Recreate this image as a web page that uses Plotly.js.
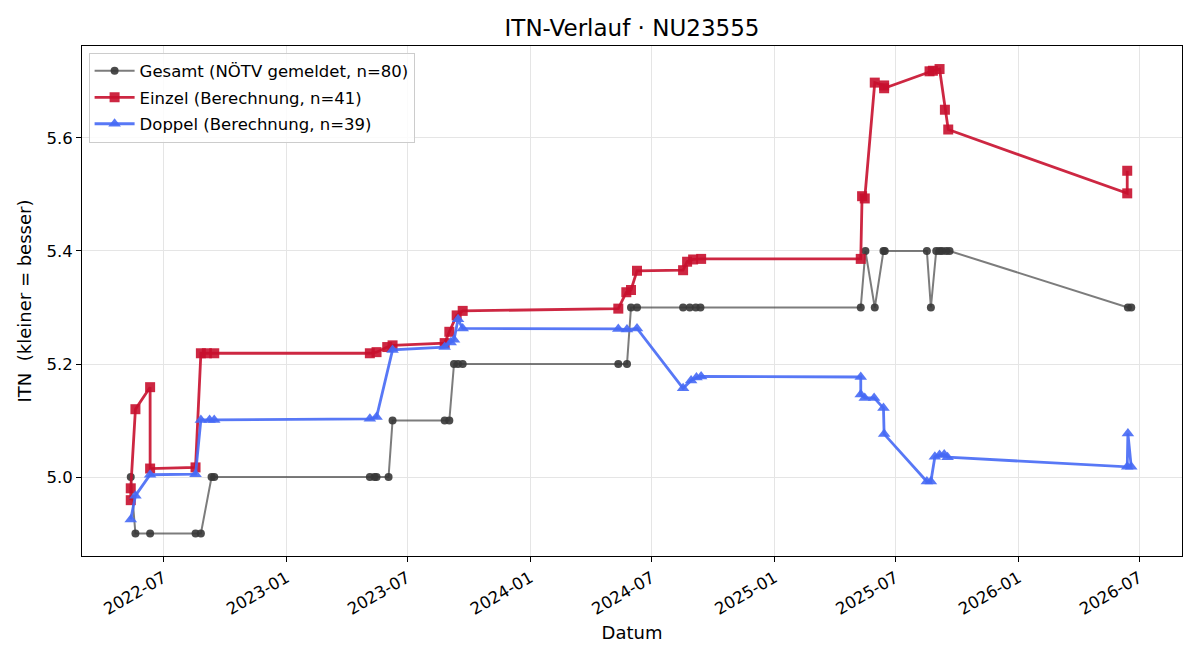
<!DOCTYPE html>
<html>
<head>
<meta charset="utf-8">
<script src="https://cdn.plot.ly/plotly-3.0.1.min.js"></script>
<style>
  html, body { margin: 0; padding: 0; background: #ffffff; }
  #chart { width: 1200px; height: 660px; }
</style>
</head>
<body>
<div id="chart"></div>
<script>
// ITN history for player NU23555: reported overall value and computed singles/doubles values

const gesamtDates = [
  '2022-05-13', '2022-05-20', '2022-06-11', '2022-08-18', '2022-08-26', '2022-09-11', '2022-09-15',
  '2023-05-06', '2023-05-13', '2023-05-16', '2023-06-03', '2023-06-09', '2023-08-26', '2023-09-02',
  '2023-09-09', '2023-09-15', '2023-09-22', '2024-05-12', '2024-05-25', '2024-05-31', '2024-06-09',
  '2024-08-17', '2024-08-27', '2024-09-05', '2024-09-12', '2025-05-10', '2025-05-17', '2025-05-31',
  '2025-06-13', '2025-06-15', '2025-08-17', '2025-08-23', '2025-08-31', '2025-09-05', '2025-09-09',
  '2025-09-15', '2025-09-20', '2026-06-14', '2026-06-19'
];
const gesamtValues = [
  5.0, 4.9, 4.9, 4.9, 4.9, 5.0, 5.0,
  5.0, 5.0, 5.0, 5.0, 5.1, 5.1, 5.1,
  5.2, 5.2, 5.2, 5.2, 5.2, 5.3, 5.3,
  5.3, 5.3, 5.3, 5.3, 5.3, 5.4, 5.3,
  5.4, 5.4, 5.4, 5.3, 5.4, 5.4, 5.4,
  5.4, 5.4, 5.3, 5.3
];

const einzelDates = [
  '2022-05-13', '2022-05-13', '2022-05-20', '2022-06-11', '2022-06-11', '2022-08-18', '2022-08-26',
  '2022-09-04', '2022-09-15', '2023-05-06', '2023-05-16', '2023-06-01', '2023-06-09', '2023-08-26',
  '2023-09-02', '2023-09-13', '2023-09-22', '2024-05-12', '2024-05-24', '2024-05-31', '2024-06-09',
  '2024-08-17', '2024-08-23', '2024-09-01', '2024-09-13', '2025-05-10', '2025-05-12', '2025-05-16',
  '2025-05-31', '2025-06-14', '2025-06-14', '2025-08-21', '2025-08-26', '2025-09-05', '2025-09-13',
  '2025-09-18', '2026-06-13', '2026-06-13'
];
const einzelValues = [
  4.959, 4.980, 5.120, 5.159, 5.015, 5.017, 5.219,
  5.219, 5.219, 5.219, 5.221, 5.230, 5.233, 5.237,
  5.257, 5.286, 5.294, 5.298, 5.327, 5.331, 5.365,
  5.366, 5.381, 5.385, 5.386, 5.386, 5.497, 5.493,
  5.698, 5.693, 5.688, 5.718, 5.719, 5.722, 5.650,
  5.615, 5.502, 5.542
];

const doppelDates = [
  '2022-05-13', '2022-05-20', '2022-06-11', '2022-08-18', '2022-08-26', '2022-09-08', '2022-09-15',
  '2023-05-06', '2023-05-16', '2023-06-09', '2023-08-26', '2023-09-04', '2023-09-09', '2023-09-15',
  '2023-09-22', '2024-05-12', '2024-05-25', '2024-06-09', '2024-08-17', '2024-08-29', '2024-09-06',
  '2024-09-13', '2025-05-10', '2025-05-10', '2025-05-16', '2025-05-30', '2025-06-13', '2025-06-14',
  '2025-08-17', '2025-08-23', '2025-08-29', '2025-09-05', '2025-09-12', '2025-09-17', '2026-06-13',
  '2026-06-14', '2026-06-19'
];
const doppelValues = [
  4.925, 4.967, 5.004, 5.005, 5.101, 5.101, 5.101,
  5.103, 5.106, 5.225, 5.230, 5.238, 5.243, 5.279,
  5.263, 5.262, 5.261, 5.263, 5.157, 5.171, 5.176,
  5.178, 5.177, 5.146, 5.140, 5.140, 5.122, 5.076,
  4.992, 4.992, 5.036, 5.039, 5.040, 5.035, 5.018,
  5.077, 5.018
];

const seriesNames = [
  'Gesamt (NÖTV gemeldet, n=80)',
  'Einzel (Berechnung, n=41)',
  'Doppel (Berechnung, n=39)'
];

const yTicks = [5.0, 5.2, 5.4, 5.6];

const FONT = 'DejaVu Sans, Liberation Sans, sans-serif';

const traces = [
  {
    x: gesamtDates, y: gesamtValues, name: seriesNames[0], legendgroup: 'gesamt',
    type: 'scatter', mode: 'lines+markers',
    line: { color: 'rgba(68,68,68,0.7)', width: 2 },
    marker: { symbol: 'circle', size: 8, color: 'rgba(55,55,55,0.9)' }
  },
  {
    x: einzelDates, y: einzelValues, name: seriesNames[1], legendgroup: 'einzel',
    type: 'scatter', mode: 'lines+markers',
    line: { color: 'rgba(200,16,46,0.9)', width: 2.8 },
    marker: { symbol: 'square', size: 10, color: 'rgba(200,16,46,0.9)' }
  },
  {
    x: doppelDates, y: doppelValues, name: seriesNames[2], legendgroup: 'doppel',
    type: 'scatter', mode: 'lines+markers',
    line: { color: 'rgba(70,105,245,0.9)', width: 2.8 },
    marker: { symbol: 'triangle-up', size: 11, color: 'rgba(70,105,245,0.9)' }
  }
];

const layout = {
  width: 1200,
  height: 660,
  margin: { l: 82, r: 18, t: 46, b: 104, pad: 0 },
  paper_bgcolor: '#ffffff',
  plot_bgcolor: '#ffffff',
  font: { family: FONT, size: 16.5, color: '#000000' },
  title: {
    text: 'ITN-Verlauf · NU23555',
    font: { family: FONT, size: 23, color: '#000000' },
    x: 0.5, xref: 'paper', xanchor: 'center',
    y: 0.958, yref: 'container', yanchor: 'middle'
  },
  xaxis: {
    type: 'date',
    range: ['2022-03-01', '2026-09-03'],
    tick0: '2022-07-01',
    dtick: 'M6',
    tickformat: '%Y-%m',
    tickangle: -30,
    ticks: 'outside', ticklen: 5, tickwidth: 1, tickcolor: '#000000',
    showline: true, linecolor: '#000000', linewidth: 1, mirror: true,
    showgrid: true, gridcolor: '#e5e5e5', gridwidth: 1,
    zeroline: false,
    tickfont: { family: FONT, size: 16.5 },
    title: { text: 'Datum', font: { family: FONT, size: 18 }, standoff: 8 },
    automargin: false
  },
  yaxis: {
    range: [4.8602, 5.7628],
    tickvals: yTicks,
    ticktext: yTicks.map(v => v.toFixed(1)),
    ticks: 'outside', ticklen: 5, tickwidth: 1, tickcolor: '#000000',
    showline: true, linecolor: '#000000', linewidth: 1, mirror: true,
    showgrid: true, gridcolor: '#e5e5e5', gridwidth: 1,
    zeroline: false,
    tickfont: { family: FONT, size: 16.5 },
    title: { text: 'ITN  (kleiner = besser)', font: { family: FONT, size: 18 }, standoff: 10 },
    automargin: false
  },
  legend: {
    x: 0.006, y: 0.987, xanchor: 'left', yanchor: 'top',
    bgcolor: 'rgba(255,255,255,0.85)',
    bordercolor: '#cccccc', borderwidth: 1,
    font: { family: FONT, size: 16.5 },
    itemwidth: 40,
    tracegroupgap: 2
  },
  showlegend: true
};

Plotly.newPlot('chart', traces, layout, { displayModeBar: false, staticPlot: true });
</script>
</body>
</html>
